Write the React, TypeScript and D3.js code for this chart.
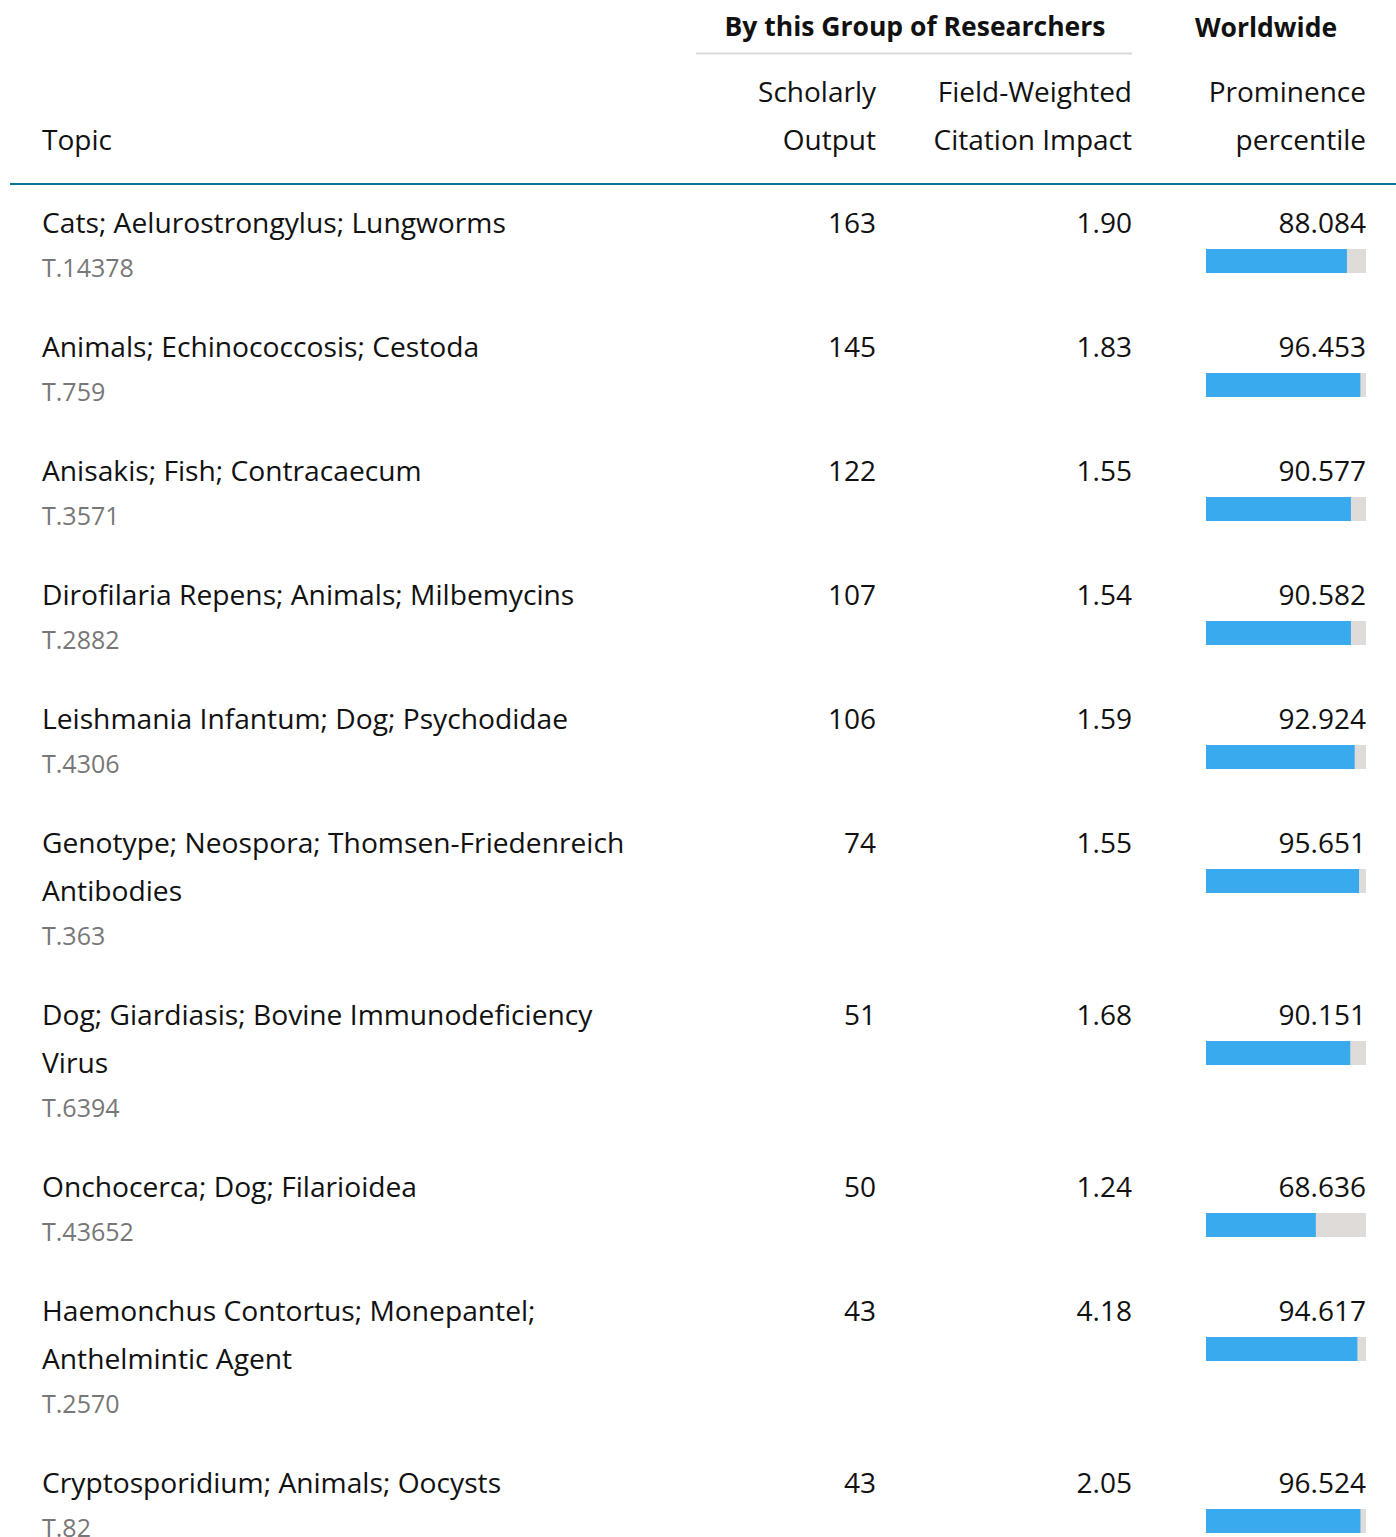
import React from 'react';
import * as d3 from 'd3';

// topic labels, already broken into display lines
const topics: string[][] = [
    ['Cats; Aelurostrongylus; Lungworms'],
    ['Animals; Echinococcosis; Cestoda'],
    ['Anisakis; Fish; Contracaecum'],
    ['Dirofilaria Repens; Animals; Milbemycins'],
    ['Leishmania Infantum; Dog; Psychodidae'],
    ['Genotype; Neospora; Thomsen-Friedenreich', 'Antibodies'],
    ['Dog; Giardiasis; Bovine Immunodeficiency', 'Virus'],
    ['Onchocerca; Dog; Filarioidea'],
    ['Haemonchus Contortus; Monepantel;', 'Anthelmintic Agent'],
    ['Cryptosporidium; Animals; Oocysts'],
];
const topicCodes = ['T.14378', 'T.759', 'T.3571', 'T.2882', 'T.4306', 'T.363', 'T.6394', 'T.43652', 'T.2570', 'T.82'];
const scholarlyOutput = [163, 145, 122, 107, 106, 74, 51, 50, 43, 43];
const fwci = [1.9, 1.83, 1.55, 1.54, 1.59, 1.55, 1.68, 1.24, 4.18, 2.05];
const prominence = [88.084, 96.453, 90.577, 90.582, 92.924, 95.651, 90.151, 68.636, 94.617, 96.524];

const W = 1396;
const H = 1537;
const FONT = '"Open Sans", "Noto Sans", sans-serif';
const LINE = 48;

const App: React.FC = () => {
    // row tops: each row is lines*48 + 76 tall
    const rowY: number[] = [];
    let acc = 223;
    topics.forEach(lines => {
        rowY.push(acc);
        acc += lines.length * LINE + 76;
    });

    const barX = d3.scaleLinear().domain([0, 100]).range([1206, 1366]);

    return (
        <svg width={W} height={H} style={{ position: 'absolute', left: 0, top: 0, background: '#fff' }}
            fontFamily={FONT}>
            {/* group headers */}
            <text x={915} y={27} dy="0.35em" textAnchor="middle" fontSize={26.5} fontWeight={700} fill="#111">
                By this Group of Researchers
            </text>
            <line x1={696} x2={1132} y1={53.5} y2={53.5} stroke="#d9d9d9" strokeWidth={2} />
            <text x={1266} y={28} dy="0.35em" textAnchor="middle" fontSize={26.5} fontWeight={700} fill="#111">
                Worldwide
            </text>

            {/* column headers */}
            <text x={42} y={140} dy="0.35em" fontSize={28} fill="#111">Topic</text>
            <text x={876} y={92} dy="0.35em" textAnchor="end" fontSize={28} fill="#111">Scholarly</text>
            <text x={876} y={140} dy="0.35em" textAnchor="end" fontSize={28} fill="#111">Output</text>
            <text x={1132} y={92} dy="0.35em" textAnchor="end" fontSize={28} fill="#111">Field-Weighted</text>
            <text x={1132} y={140} dy="0.35em" textAnchor="end" fontSize={28} fill="#111">Citation Impact</text>
            <text x={1366} y={92} dy="0.35em" textAnchor="end" fontSize={28} fill="#111">Prominence</text>
            <text x={1366} y={140} dy="0.35em" textAnchor="end" fontSize={28} fill="#111">percentile</text>
            <line x1={10} x2={W} y1={184} y2={184} stroke="#0a74a0" strokeWidth={2} />

            {topics.map((lines, i) => {
                const y = rowY[i];
                return (
                    <g key={topicCodes[i]}>
                        {lines.map((ln, j) => (
                            <text key={j} x={42} y={y + j * LINE} dy="0.35em" fontSize={28.2} fill="#111">{ln}</text>
                        ))}
                        <text x={42} y={y + (lines.length - 1) * LINE + 45} dy="0.35em" fontSize={25} fill="#777">
                            {topicCodes[i]}
                        </text>
                        <text x={876} y={y} dy="0.35em" textAnchor="end" fontSize={28} fill="#111">
                            {scholarlyOutput[i]}
                        </text>
                        <text x={1132} y={y} dy="0.35em" textAnchor="end" fontSize={28} fill="#111">
                            {fwci[i].toFixed(2)}
                        </text>
                        <text x={1366} y={y} dy="0.35em" textAnchor="end" fontSize={28} fill="#111">
                            {prominence[i].toFixed(3)}
                        </text>
                        <rect x={barX(0)} y={y + 26} width={barX(100) - barX(0)} height={24} fill="#dedbd8" />
                        <rect x={barX(0)} y={y + 26} width={barX(prominence[i]) - barX(0)} height={24} fill="#3aaaee" />
                    </g>
                );
            })}
        </svg>
    );
};

export default App;
